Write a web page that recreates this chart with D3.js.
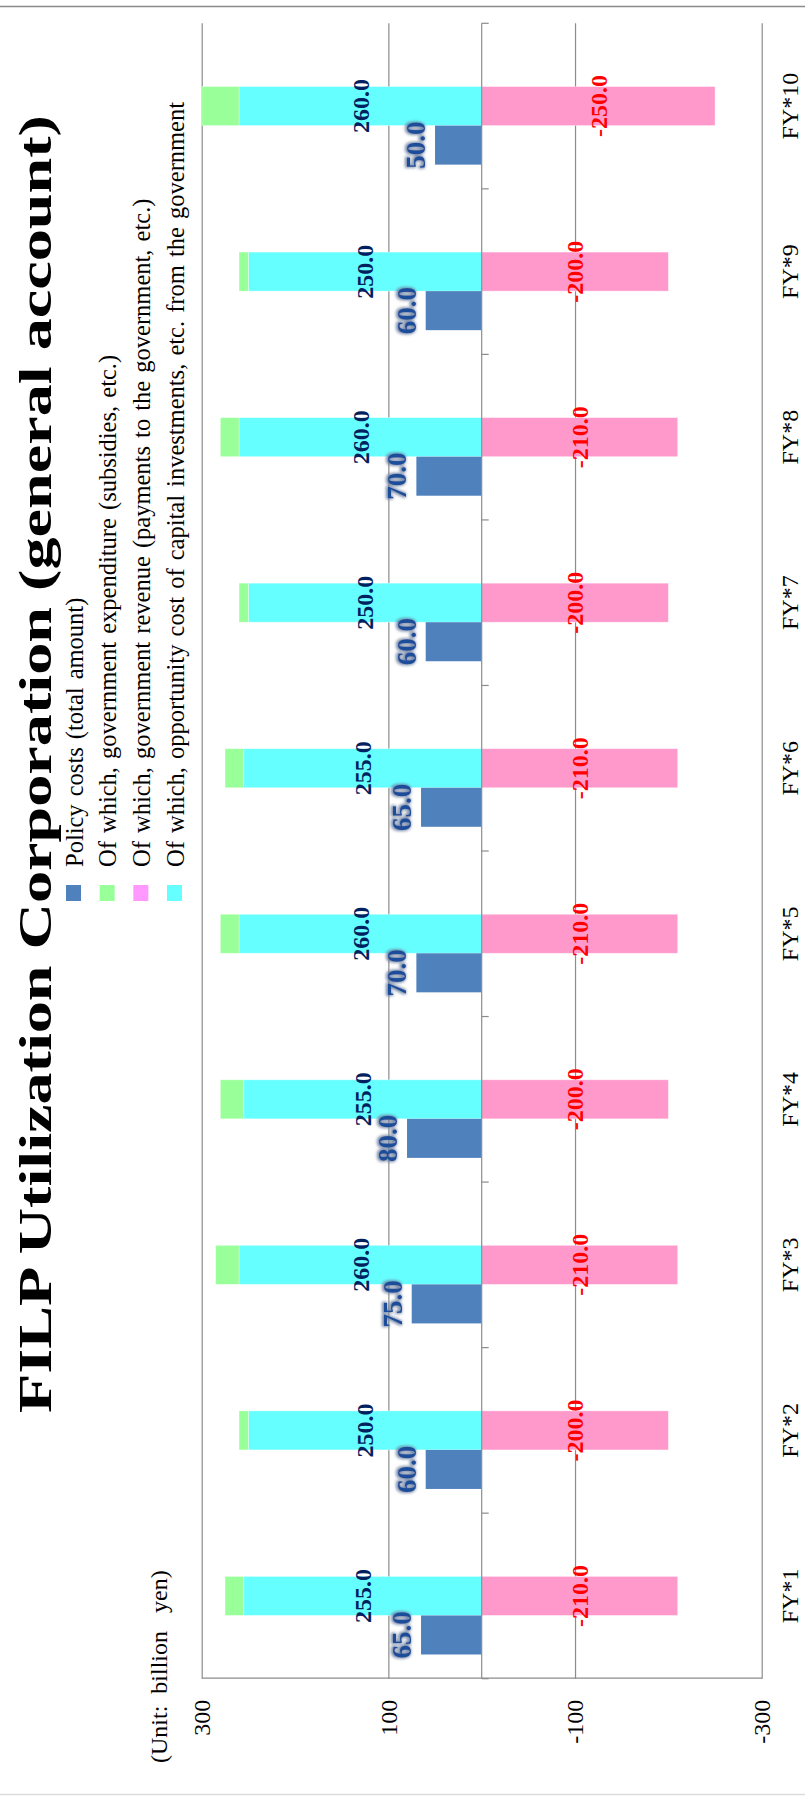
<!DOCTYPE html>
<html>
<head>
<meta charset="utf-8">
<script src="https://cdn.jsdelivr.net/npm/d3@7"></script>
<style>
  body { margin: 0; background: #fff; }
  svg { display: block; }
</style>
</head>
<body>
<svg id="chart" width="805" height="1798"></svg>
<script>
// Fiscal years on the category axis
const categories = ["FY*1", "FY*2", "FY*3", "FY*4", "FY*5", "FY*6", "FY*7", "FY*8", "FY*9", "FY*10"];
// Policy costs (total amount), billion yen
const policyCosts = [65, 60, 75, 80, 70, 65, 60, 70, 60, 50];
// Of which, government expenditure (subsidies, etc.)
const expenditure = [20, 10, 25, 25, 20, 20, 10, 20, 10, 40];
// Of which, government revenue (payments to the government, etc.)
const revenue = [-210, -200, -210, -200, -210, -210, -200, -210, -200, -250];
// Of which, opportunity cost of capital investments, etc. from the government
const opportunityCost = [255, 250, 260, 255, 260, 255, 250, 260, 250, 260];
// Value axis ticks
const valueTicks = [300, 100, -100, -300];

const legendLabels = [
  "Policy costs (total amount)",
  "Of which, government expenditure (subsidies, etc.)",
  "Of which, government revenue (payments to the government, etc.)",
  "Of which, opportunity cost of capital investments, etc. from the government"
];
const legendColors = ["#4F81BD", "#99FF99", "#FF99FF", "#66FFFF"];

const W = 805, H = 1798;
const serif = "'Liberation Serif', 'Times New Roman', serif";
const gridColor = "#8c8c8c";

const svg = d3.select("#chart");

// Soft shadow behind the total-cost labels
const glow = svg.append("defs").append("filter")
  .attr("id", "labelGlow").attr("x", "-30%").attr("y", "-30%")
  .attr("width", "160%").attr("height", "160%");
glow.append("feMorphology").attr("in", "SourceAlpha").attr("operator", "dilate").attr("radius", 0.6).attr("result", "fat");
glow.append("feGaussianBlur").attr("in", "fat").attr("stdDeviation", 1.5).attr("result", "blur");
glow.append("feOffset").attr("in", "blur").attr("dx", -0.5).attr("dy", -1).attr("result", "off");
glow.append("feFlood").attr("flood-color", "#6a7d9e").attr("flood-opacity", 0.9);
glow.append("feComposite").attr("in2", "off").attr("operator", "in").attr("result", "shadow");
const merge = glow.append("feMerge");
merge.append("feMergeNode").attr("in", "shadow");
merge.append("feMergeNode").attr("in", "SourceGraphic");

// Page rules
svg.append("line").attr("x1", 0).attr("x2", W).attr("y1", 6.5).attr("y2", 6.5)
  .attr("stroke", "#8a8a8a").attr("stroke-width", 1.5);
svg.append("line").attr("x1", 0).attr("x2", W).attr("y1", 1794.5).attr("y2", 1794.5)
  .attr("stroke", "#dcdcdc").attr("stroke-width", 1.5);

// The chart is laid out landscape (width H, height W) and turned a quarter turn counter-clockwise
const frame = svg.append("g").attr("transform", `translate(0,${H}) rotate(-90)`);

const plot = { left: 119.3, right: 1774.7, top: 201.7, bottom: 761.7 };

const x = d3.scaleBand().domain(categories)
  .range([plot.left, plot.right])
  .paddingInner(0.2925).paddingOuter(0.14625);
const slot = d3.scaleBand().domain(["total", "breakdown", "spare"]).range([0, x.bandwidth()]);
const y = d3.scaleLinear().domain([-300, 300]).range([plot.bottom, plot.top]);

// Value axis with horizontal gridlines
frame.append("g")
  .attr("transform", `translate(${plot.left},0)`)
  .call(d3.axisLeft(y).tickValues(valueTicks)
    .tickSizeInner(-(plot.right - plot.left)).tickSizeOuter(0)
    .tickPadding(21).tickFormat(d => String(d)))
  .call(g => g.selectAll("line, path").attr("stroke", gridColor).attr("stroke-width", 1.2))
  .call(g => g.selectAll("text").attr("font-family", serif).attr("font-size", 24).attr("fill", "#000"));

// Stacked breakdown (positive parts upward, revenue downward)
const rows = categories.map((c, i) => ({
  category: c,
  opportunity: opportunityCost[i],
  expenditure: expenditure[i],
  revenue: revenue[i]
}));
const stackKeys = ["opportunity", "expenditure", "revenue"];
const stackColors = { opportunity: "#66FFFF", expenditure: "#99FF99", revenue: "#FF99CC" };
const series = d3.stack().keys(stackKeys).offset(d3.stackOffsetDiverging)(rows);

frame.append("g").selectAll("g").data(series).join("g")
  .attr("fill", s => stackColors[s.key])
  .selectAll("rect").data(s => s).join("rect")
  .attr("x", d => x(d.data.category) + slot("breakdown"))
  .attr("width", slot.bandwidth())
  .attr("y", d => y(Math.max(d[0], d[1])))
  .attr("height", d => Math.abs(y(d[0]) - y(d[1])))
  .attr("stroke", "#fff").attr("stroke-opacity", 0.45).attr("stroke-width", 0.8);

// Policy cost totals
frame.append("g").selectAll("rect").data(categories).join("rect")
  .attr("x", c => x(c) + slot("total"))
  .attr("width", slot.bandwidth())
  .attr("y", (c, i) => y(Math.max(0, policyCosts[i])))
  .attr("height", (c, i) => Math.abs(y(policyCosts[i]) - y(0)))
  .attr("fill", "#4F81BD");

// Category axis along zero, with tick marks between years
const zeroY = y(0);
const catAxis = frame.append("g");
catAxis.append("line")
  .attr("x1", plot.left).attr("x2", plot.right)
  .attr("y1", zeroY).attr("y2", zeroY)
  .attr("stroke", gridColor).attr("stroke-width", 1.2);
const bounds = categories.map(c => x(c) - x.step() * x.paddingOuter()).concat([plot.right]);
catAxis.selectAll("line.tick").data(bounds).join("line")
  .attr("class", "tick")
  .attr("x1", d => d).attr("x2", d => d)
  .attr("y1", zeroY).attr("y2", zeroY + 7)
  .attr("stroke", gridColor).attr("stroke-width", 1.2);

// Year labels along the low edge
frame.append("g").selectAll("text").data(categories).join("text")
  .attr("x", c => x(c) + x.bandwidth() / 2)
  .attr("y", 798)
  .attr("text-anchor", "middle")
  .attr("font-family", serif).attr("font-size", 24).attr("fill", "#000")
  .text(c => c);

// Value labels
const labelGroup = frame.append("g").attr("font-family", serif).attr("font-weight", "bold");
labelGroup.selectAll("text.opp").data(categories).join("text")
  .attr("class", "opp")
  .attr("x", c => x(c) + slot("breakdown") + slot.bandwidth() / 2)
  .attr("y", (c, i) => y(opportunityCost[i] / 2))
  .attr("dy", "0.35em")
  .attr("text-anchor", "middle").attr("font-size", 24).attr("fill", "#002060")
  .text((c, i) => opportunityCost[i].toFixed(1));
labelGroup.selectAll("text.rev").data(categories).join("text")
  .attr("class", "rev")
  .attr("x", c => x(c) + slot("breakdown") + slot.bandwidth() / 2)
  .attr("y", (c, i) => y(revenue[i] / 2))
  .attr("dy", "0.35em")
  .attr("text-anchor", "middle").attr("font-size", 24).attr("fill", "#FF0000")
  .text((c, i) => revenue[i].toFixed(1));
labelGroup.selectAll("text.total").data(categories).join("text")
  .attr("class", "total")
  .attr("x", c => x(c) + slot("total") + slot.bandwidth() / 2)
  .attr("y", (c, i) => y(policyCosts[i]) - 10)
  .attr("text-anchor", "middle").attr("font-size", 27).attr("fill", "#1F4E9A")
  .attr("filter", "url(#labelGlow)")
  .text((c, i) => policyCosts[i].toFixed(1));

// Legend
const legend = frame.append("g");
const legendRow = d3.scaleLinear().domain([0, 3]).range([73.5, 174.5]);
legend.selectAll("rect").data(legendLabels).join("rect")
  .attr("x", 897).attr("width", 16)
  .attr("y", (d, i) => legendRow(i) - 7.5).attr("height", 15)
  .attr("fill", (d, i) => legendColors[i]);
legend.selectAll("text").data(legendLabels).join("text")
  .attr("x", 931)
  .attr("y", (d, i) => legendRow(i) + 9)
  .attr("font-family", serif).attr("font-size", 24.5).attr("fill", "#000")
  .attr("word-spacing", 2)
  .text(d => d);

// Title, set in a wide bold serif across the upper margin
frame.append("text")
  .attr("x", 385).attr("y", 51)
  .attr("font-family", serif).attr("font-weight", "bold")
  .attr("font-size", 46).attr("fill", "#000")
  .attr("textLength", 1298).attr("lengthAdjust", "spacingAndGlyphs")
  .text("FILP Utilization Corporation (general account)");

// Unit note
frame.append("text")
  .attr("x", 35).attr("y", 167)
  .attr("font-family", serif).attr("font-size", 24).attr("fill", "#000")
  .style("white-space", "pre")
  .text("(Unit:  billion   yen)");
</script>
</body>
</html>
